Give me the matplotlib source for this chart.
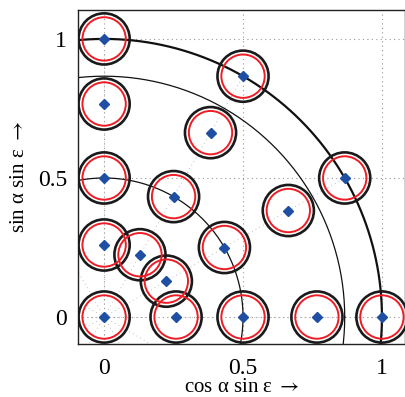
import numpy as np
import matplotlib
matplotlib.use("Agg")
import matplotlib.pyplot as plt
from matplotlib.patches import Circle

plt.rcParams['font.family'] = ['Liberation Serif', 'DejaVu Serif']
plt.rcParams['mathtext.fontset'] = 'stix'

# source positions (cos a sin e, sin a sin e)
x_vals = [0.0, 0.259, 0.224, 0.129, 0.0,
          0.5, 0.433, 0.25, 0.0,
          0.766, 0.663, 0.383, 0.0,
          1.0, 0.866, 0.5, 0.0]
y_vals = [0.0, 0.0, 0.129, 0.224, 0.259,
          0.0, 0.25, 0.433, 0.5,
          0.0, 0.383, 0.663, 0.766,
          0.0, 0.5, 0.866, 1.0]
arc_radii = [1.0, 0.866, 0.5]
arc_widths = [1.6, 0.9, 0.9]
ray_angles = [0, 30, 60, 90, 120, 150, 180, 210, 240, 270, 300, 330]
tick_vals = [0, 0.5, 1]
tick_labels = ['0', '0.5', '1']

fig = plt.figure(figsize=(4.05, 3.97), dpi=100)
ax = fig.add_axes([0.1926, 0.1335, 0.8074, 0.8413])
ax.set_xlim(-0.094, 1.083)
ax.set_ylim(-0.097, 1.104)

# dotted grid
for v in tick_vals:
    ax.axvline(v, color='#999999', ls=(0, (1, 3)), lw=0.8, zorder=1)
    ax.axhline(v, color='#999999', ls=(0, (1, 3)), lw=0.8, zorder=1)

# faint dotted rays
for a in ray_angles:
    t = np.deg2rad(a)
    ax.plot([0, np.cos(t)], [0, np.sin(t)], color='#aaaaaa', ls=(0, (1, 4)), lw=0.6, zorder=1)

# arcs
th = np.linspace(0, 2 * np.pi, 721)
for r, w in zip(arc_radii, arc_widths):
    ax.plot(r * np.cos(th), r * np.sin(th), color='#111111', lw=w, zorder=2)

# circles
for x, y in zip(x_vals, y_vals):
    ax.add_patch(Circle((x, y), 0.092, fill=False, ec='#1a1a1a', lw=1.9, zorder=3))
    ax.add_patch(Circle((x, y), 0.078, fill=False, ec='#ee1c24', lw=1.4, zorder=4))

ax.plot(x_vals, y_vals, 'D', color='#1f4fa3', ms=5, mec='#1f4fa3', zorder=5, ls='none')

ax.set_xticks(tick_vals)
ax.set_xticklabels(tick_labels)
ax.set_yticks(tick_vals)
ax.set_yticklabels(tick_labels)
ax.tick_params(length=0, labelsize=17, pad=8)
ax.tick_params(axis='x', pad=10)
for s in ax.spines.values():
    s.set_linewidth(1.0)
    s.set_color('#222222')

ax.set_xlabel('cos α sin ε $\\rightarrow$', fontsize=15, labelpad=-1)
ax.set_ylabel('sin α sin ε $\\rightarrow$', fontsize=15, labelpad=6)

fig.savefig('out.png', dpi=100)
